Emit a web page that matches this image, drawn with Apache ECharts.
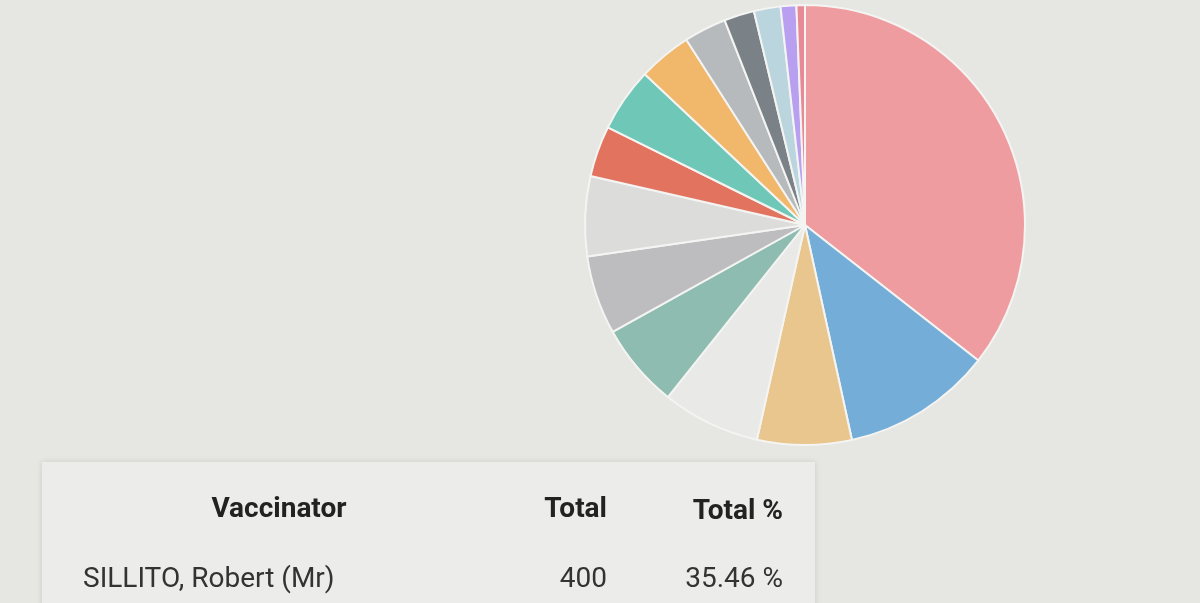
<!DOCTYPE html>
<html>
<head>
<meta charset="utf-8">
<script src="https://cdn.jsdelivr.net/npm/echarts@6/dist/echarts.min.js"></script>
<style>
  html, body { margin: 0; padding: 0; background: #e6e6e3; }
  #chart { width: 1200px; height: 603px; }
</style>
</head>
<body>
<div id="chart"></div>
<script>
// 饼图数据
const sliceNames = ['SILLITO, Robert (Mr)', 'B', 'C', 'D', 'E', 'F', 'G', 'H', 'I', 'J', 'K', 'L', 'M', 'N', 'O'];
const sliceValues = [400, 124, 78, 81, 70, 65, 66, 42, 53, 44, 35, 25, 22, 13, 7];
const sliceColors = ['#ef9ca0', '#74aed8', '#e8c68e', '#e9e9e7', '#8fbcb0', '#bdbdbf', '#dcdcda',
  '#e2735f', '#6fc7b7', '#f1b86c', '#b7babd', '#7b8287', '#bad5dd', '#b99ff0', '#e88a96'];

// 表格数据
const tableHeaders = ['Vaccinator', 'Total', 'Total %'];
const tableRow = ['SILLITO, Robert (Mr)', '400', '35.46 %'];

const font = 'Roboto';
function cell(text, x, y, align, bold) {
  return { type: 'text', x: x, y: y, style: { text: text, fontSize: 28, fontWeight: bold ? 'bold' : 'normal',
    fill: bold ? '#222' : '#333', align: align, verticalAlign: 'middle', fontFamily: font } };
}

const chart = echarts.init(document.getElementById('chart'));

chart.setOption({
  backgroundColor: '#e6e6e3',
  animation: false,
  graphic: [
    { type: 'rect', shape: { x: 42, y: 462, width: 773, height: 160 },
      style: { fill: '#ececea', shadowBlur: 6, shadowColor: 'rgba(0,0,0,0.12)' } },
    cell(tableHeaders[0], 279, 510, 'center', true),
    cell(tableHeaders[1], 607, 510, 'right', true),
    cell(tableHeaders[2], 783, 512, 'right', true),
    cell(tableRow[0], 83, 580, 'left', false),
    cell(tableRow[1], 607, 580, 'right', false),
    cell(tableRow[2], 783, 580, 'right', false)
  ],
  series: [{
    type: 'pie',
    center: [805, 225],
    radius: 220,
    startAngle: 90,
    clockwise: true,
    label: { show: false },
    labelLine: { show: false },
    itemStyle: { borderColor: '#f4f4f2', borderWidth: 2 },
    data: sliceValues.map((v, i) => ({ value: v, name: sliceNames[i], itemStyle: { color: sliceColors[i] } }))
  }]
});
</script>
</body>
</html>
